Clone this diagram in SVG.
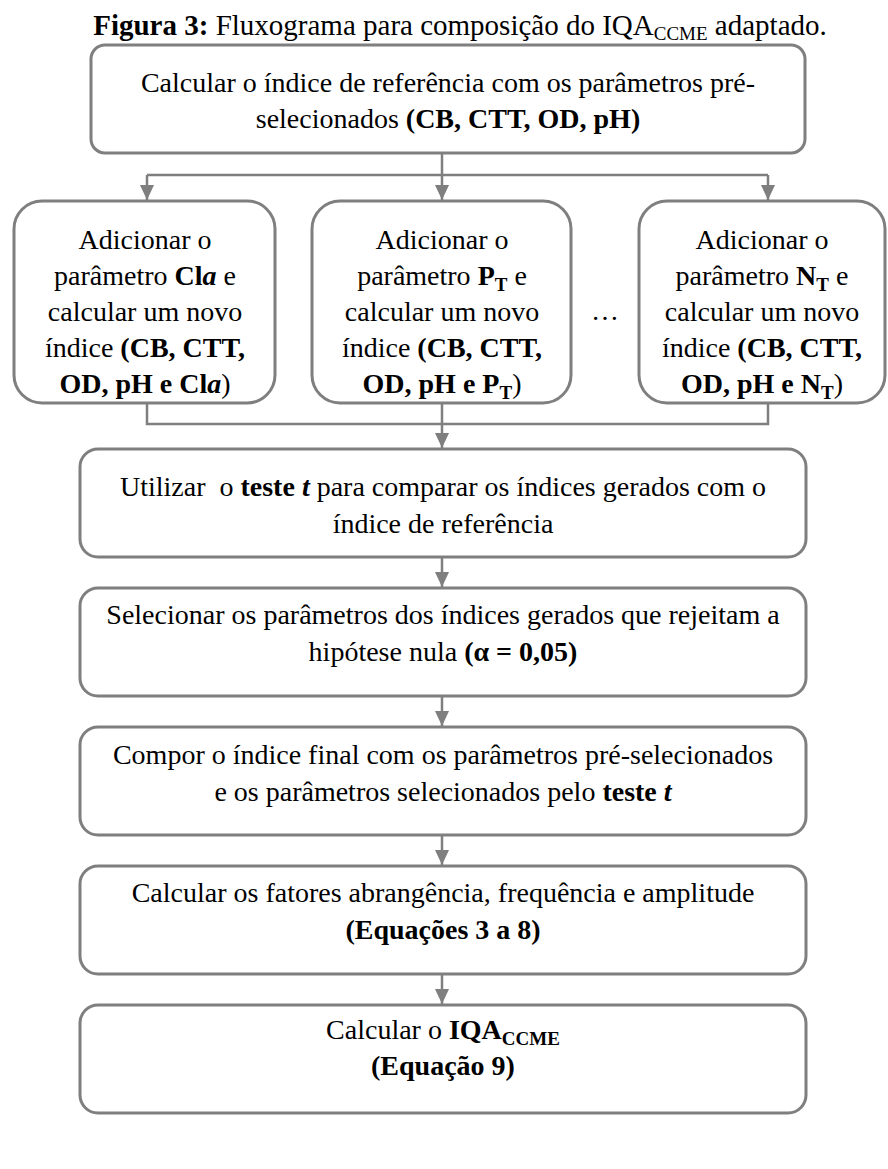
<svg xmlns="http://www.w3.org/2000/svg" width="888" height="1169" viewBox="0 0 888 1169">
<defs>
<marker id="arr" markerUnits="userSpaceOnUse" markerWidth="16" markerHeight="16" viewBox="0 0 16 16" refX="15" refY="8" orient="auto">
<path d="M0,1 L15,8 L0,15 Z" fill="#7f7f7f"/>
</marker>
<style>
.box{fill:#fff;stroke:#7f7f7f;stroke-width:3}
.ln{fill:none;stroke:#7f7f7f;stroke-width:2.5}
text{font-family:"Liberation Serif","Times New Roman",serif;font-size:28px;fill:#000;text-anchor:middle}
.t{font-size:29px}
.b{font-weight:bold}
.bi{font-weight:bold;font-style:italic}
.s{font-size:19px}
.pre{white-space:pre}
</style>
</defs>
<rect width="888" height="1169" fill="#fff"/>
<text class="t" x="460" y="35"><tspan class="b">Figura 3:</tspan> Fluxograma para composição do IQA<tspan class="s" dy="5">CCME</tspan><tspan dy="-5"> adaptado.</tspan></text>

<g id="connectors">
<path class="ln" d="M442,153 V175 M147,175 H768"/>
<path class="ln" d="M147,175 V200" marker-end="url(#arr)"/>
<path class="ln" d="M442,175 V200" marker-end="url(#arr)"/>
<path class="ln" d="M768,175 V200" marker-end="url(#arr)"/>
<path class="ln" d="M147,403 V424 H768 V403 M442,403 V424"/>
<path class="ln" d="M442,424 V448" marker-end="url(#arr)"/>
<path class="ln" d="M442,557 V587" marker-end="url(#arr)"/>
<path class="ln" d="M442,696 V726" marker-end="url(#arr)"/>
<path class="ln" d="M442,835 V865" marker-end="url(#arr)"/>
<path class="ln" d="M442,974 V1004" marker-end="url(#arr)"/>
</g>

<g id="n1">
<rect class="box" x="91" y="45" width="714" height="108" rx="14"/>
<text x="448" y="92">Calcular o índice de referência com os parâmetros pré-</text>
<text x="448" y="128">selecionados <tspan class="b">(CB, CTT, OD, pH)</tspan></text>
</g>

<g id="n2">
<rect class="box" x="14" y="201" width="261" height="202" rx="28"/>
<text x="145" y="249">Adicionar o</text>
<text x="145" y="285">parâmetro <tspan class="b">Cl</tspan><tspan class="bi">a</tspan> e</text>
<text x="145" y="321">calcular um novo</text>
<text x="145" y="357">índice <tspan class="b">(CB, CTT,</tspan></text>
<text x="145" y="393"><tspan class="b">OD, pH e Cl</tspan><tspan class="bi">a</tspan>)</text>
</g>

<g id="n3">
<rect class="box" x="312" y="201" width="259" height="202" rx="28"/>
<text x="442" y="249">Adicionar o</text>
<text x="442" y="285">parâmetro <tspan class="b">P</tspan><tspan class="b s" dy="6">T</tspan><tspan dy="-6"> e</tspan></text>
<text x="442" y="321">calcular um novo</text>
<text x="442" y="357">índice <tspan class="b">(CB, CTT,</tspan></text>
<text x="442" y="393"><tspan class="b">OD, pH e P</tspan><tspan class="b s" dy="6">T</tspan><tspan dy="-6">)</tspan></text>
</g>

<text x="605" y="320">…</text>

<g id="n4">
<rect class="box" x="639" y="201" width="246" height="202" rx="28"/>
<text x="762" y="249">Adicionar o</text>
<text x="762" y="285">parâmetro <tspan class="b">N</tspan><tspan class="b s" dy="6">T</tspan><tspan dy="-6"> e</tspan></text>
<text x="762" y="321">calcular um novo</text>
<text x="762" y="357">índice <tspan class="b">(CB, CTT,</tspan></text>
<text x="762" y="393"><tspan class="b">OD, pH e N</tspan><tspan class="b s" dy="6">T</tspan><tspan dy="-6">)</tspan></text>
</g>

<g id="n5">
<rect class="box" x="80" y="449" width="726" height="108" rx="18"/>
<text class="pre" x="443" y="496">Utilizar  o <tspan class="b">teste </tspan><tspan class="bi">t</tspan> para comparar os índices gerados com o</text>
<text x="443" y="533">índice de referência</text>
</g>

<g id="n6">
<rect class="box" x="80" y="588" width="726" height="108" rx="18"/>
<text x="443" y="624">Selecionar os parâmetros dos índices gerados que rejeitam a</text>
<text x="443" y="661">hipótese nula <tspan class="b">(α = 0,05)</tspan></text>
</g>

<g id="n7">
<rect class="box" x="80" y="727" width="726" height="108" rx="18"/>
<text x="443" y="764">Compor o índice final com os parâmetros pré-selecionados</text>
<text x="443" y="801">e os parâmetros selecionados pelo <tspan class="b">teste </tspan><tspan class="bi">t</tspan></text>
</g>

<g id="n8">
<rect class="box" x="80" y="866" width="726" height="108" rx="18"/>
<text x="443" y="902">Calcular os fatores abrangência, frequência e amplitude</text>
<text x="443" y="939" class="b">(Equações 3 a 8)</text>
</g>

<g id="n9">
<rect class="box" x="80" y="1005" width="726" height="108" rx="18"/>
<text x="443" y="1039">Calcular o <tspan class="b">IQA</tspan><tspan class="b s" dy="6">CCME</tspan></text>
<text x="443" y="1075" class="b">(Equação 9)</text>
</g>
</svg>
